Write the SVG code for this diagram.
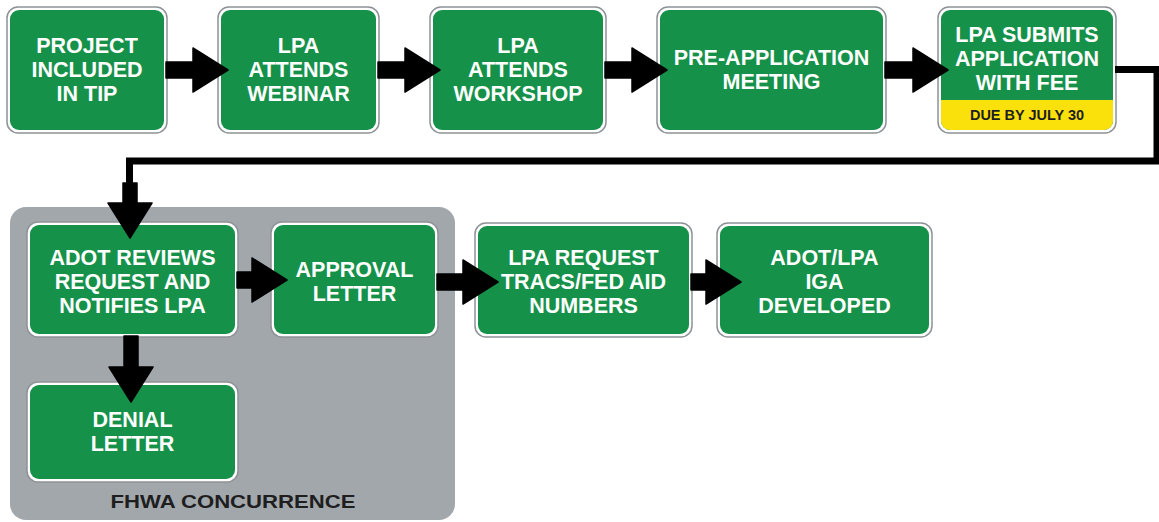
<svg xmlns="http://www.w3.org/2000/svg" width="1159" height="522" viewBox="0 0 1159 522">
<style>
.frame{fill:#ffffff;stroke:#8e9295;stroke-width:1.5}
.sign{fill:#16914a}
.lbl{font-family:"Liberation Sans",Arial,sans-serif;font-weight:bold;font-size:21.5px;fill:#ffffff;text-anchor:middle}
.dark{font-family:"Liberation Sans",Arial,sans-serif;font-weight:bold;fill:#1e1e1e;text-anchor:middle}
.arrow{fill:#000;stroke:#000;stroke-width:1.5;stroke-linejoin:round}
.line{fill:none;stroke:#000;stroke-width:7;stroke-linejoin:miter}
</style>
<rect width="1159" height="522" fill="#ffffff"/>
<g id="fhwa-container">
  <rect x="10" y="207" width="445" height="313" rx="16" fill="#a2a7ac"/>
  <text class="dark" x="233" y="508" font-size="19" textLength="245" lengthAdjust="spacingAndGlyphs">FHWA CONCURRENCE</text>
</g>
<g id="node-project">
  <rect class="frame" x="7" y="7" width="160" height="126" rx="11"/>
  <rect class="sign" x="10" y="10" width="154" height="120" rx="9"/>
  <text class="lbl" x="87" y="53">PROJECT</text>
  <text class="lbl" x="87" y="77">INCLUDED</text>
  <text class="lbl" x="87" y="101">IN TIP</text>
</g>
<g id="node-webinar">
  <rect class="frame" x="218" y="7" width="161" height="126" rx="11"/>
  <rect class="sign" x="221" y="10" width="155" height="120" rx="9"/>
  <text class="lbl" x="298.5" y="53">LPA</text>
  <text class="lbl" x="298.5" y="77">ATTENDS</text>
  <text class="lbl" x="298.5" y="101">WEBINAR</text>
</g>
<g id="node-workshop">
  <rect class="frame" x="430" y="7" width="176" height="126" rx="11"/>
  <rect class="sign" x="433" y="10" width="170" height="120" rx="9"/>
  <text class="lbl" x="518" y="53">LPA</text>
  <text class="lbl" x="518" y="77">ATTENDS</text>
  <text class="lbl" x="518" y="101">WORKSHOP</text>
</g>
<g id="node-preapp">
  <rect class="frame" x="657" y="7" width="229" height="126" rx="11"/>
  <rect class="sign" x="660" y="10" width="223" height="120" rx="9"/>
  <text class="lbl" x="771.5" y="65">PRE-APPLICATION</text>
  <text class="lbl" x="771.5" y="89">MEETING</text>
</g>
<g id="node-submit">
  <rect class="frame" x="938" y="7" width="178" height="126" rx="11"/>
  <rect class="sign" x="941" y="10" width="172" height="120" rx="9"/>
  <path d="M941,100 H1113 V121 A9,9 0 0 1 1104,130 H950 A9,9 0 0 1 941,121 Z" fill="#fbe10c"/>
  <text class="lbl" x="1027" y="42">LPA SUBMITS</text>
  <text class="lbl" x="1027" y="66">APPLICATION</text>
  <text class="lbl" x="1027" y="90">WITH FEE</text>
  <text class="dark" x="1027" y="120" font-size="14.5">DUE BY JULY 30</text>
</g>
<g id="node-adot-reviews">
  <rect class="frame" x="27" y="222" width="211" height="115" rx="11"/>
  <rect class="sign" x="30" y="225" width="205" height="109" rx="9"/>
  <text class="lbl" x="132.5" y="265">ADOT REVIEWS</text>
  <text class="lbl" x="132.5" y="289">REQUEST AND</text>
  <text class="lbl" x="132.5" y="313">NOTIFIES LPA</text>
</g>
<g id="node-approval">
  <rect class="frame" x="271" y="222" width="167" height="115" rx="11"/>
  <rect class="sign" x="274" y="225" width="161" height="109" rx="9"/>
  <text class="lbl" x="354.5" y="277">APPROVAL</text>
  <text class="lbl" x="354.5" y="301">LETTER</text>
</g>
<g id="node-denial">
  <rect class="frame" x="27" y="382" width="211" height="100" rx="11"/>
  <rect class="sign" x="30" y="385" width="205" height="94" rx="9"/>
  <text class="lbl" x="132.5" y="427">DENIAL</text>
  <text class="lbl" x="132.5" y="451">LETTER</text>
</g>
<g id="node-lpa-request">
  <rect class="frame" x="475" y="223" width="217" height="114" rx="11"/>
  <rect class="sign" x="478" y="226" width="211" height="108" rx="9"/>
  <text class="lbl" x="583.5" y="265">LPA REQUEST</text>
  <text class="lbl" x="583.5" y="289">TRACS/FED AID</text>
  <text class="lbl" x="583.5" y="313">NUMBERS</text>
</g>
<g id="node-iga">
  <rect class="frame" x="717" y="223" width="215" height="114" rx="11"/>
  <rect class="sign" x="720" y="226" width="209" height="108" rx="9"/>
  <text class="lbl" x="824.5" y="265">ADOT/LPA</text>
  <text class="lbl" x="824.5" y="289">IGA</text>
  <text class="lbl" x="824.5" y="313">DEVELOPED</text>
</g>
<g id="connectors">
  <path class="arrow" d="M166,62 H193 V48 L228,70 L193,92 V78 H166 Z"/>
  <path class="arrow" d="M378,62 H405 V48 L440,70 L405,92 V78 H378 Z"/>
  <path class="arrow" d="M605,62 H632 V48 L667,70 L632,92 V78 H605 Z"/>
  <path class="arrow" d="M885,62 H913 V48 L948,70 L913,92 V78 H885 Z"/>
  <path class="line" d="M1115,69.5 H1157 V161 H129.5 V186"/>
  <path class="arrow" d="M123,183 V203 H108 L130,238 L152,203 H137 V183 Z"/>
  <path class="arrow" d="M237,272 H252 V258 L287,280 L252,302 V288 H237 Z"/>
  <path class="arrow" d="M437,274 H463 V260 L498,282 L463,304 V290 H437 Z"/>
  <path class="arrow" d="M691,274 H706 V260 L741,282 L706,304 V290 H691 Z"/>
  <path class="arrow" d="M124,336 V367 H109 L131,402 L153,367 H138 V336 Z"/>
</g>
</svg>
